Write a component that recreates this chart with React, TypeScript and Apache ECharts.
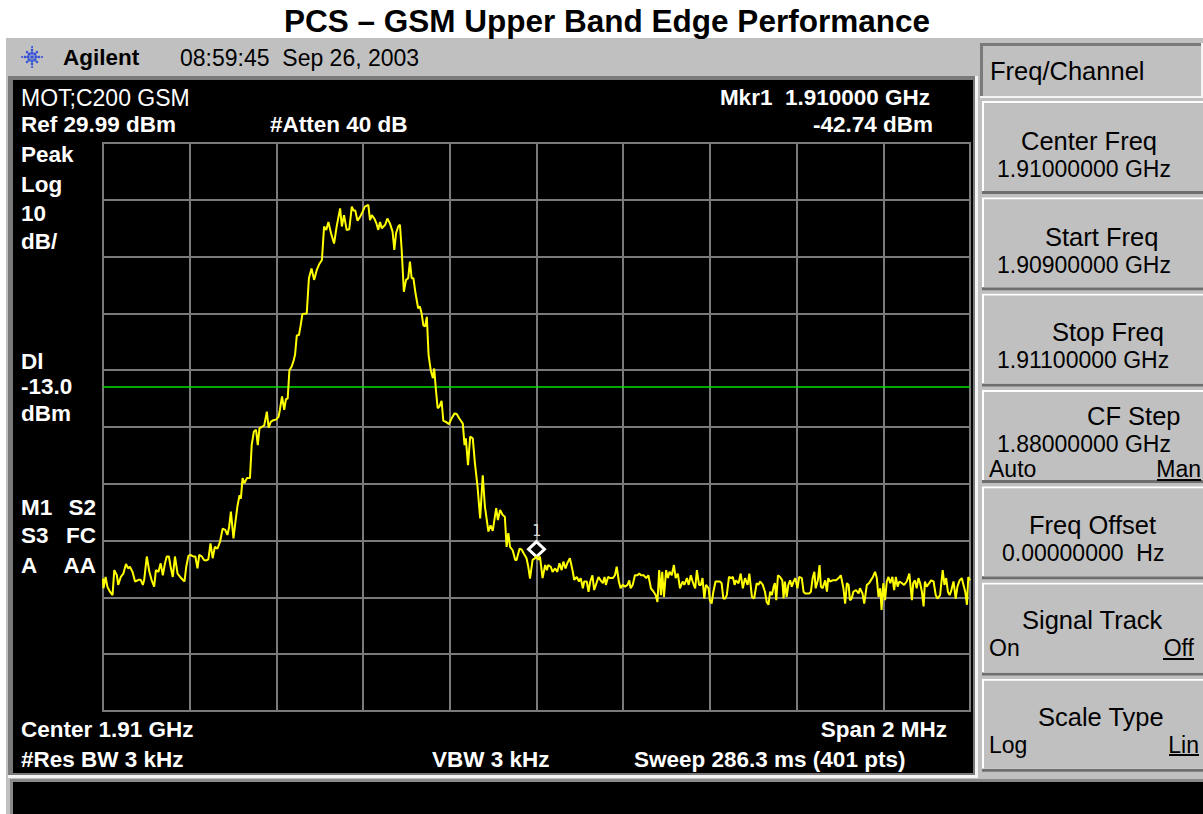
import React, { useEffect, useRef } from "react";
import * as echarts from "echarts";

const titleText = "PCS – GSM Upper Band Edge Performance";
const topLevelDbm = 30; // Ref 29.99 dBm
const bottomLevelDbm = -70;
const dbPerDiv = 10;
const spanKHz = 2000; // 1.909 GHz .. 1.911 GHz
const kHzPerDiv = 200;
const displayLineDbm = -13;
const markerFreqKHz = 1000;
const markerLevelDbm = -42.74;

// trace: frequency offset from start (1.909 GHz) in kHz, level in dBm
const traceFreqKHz = [
  0, 1, 6, 10, 16, 22, 26, 32, 35, 41,
  47, 53, 58, 62, 68, 74, 82, 87, 92, 95,
  101, 107, 112, 118, 122, 128, 133, 138, 143, 147,
  152, 156, 161, 166, 172, 178, 184, 188, 192, 197,
  202, 208, 213, 218, 222, 228, 233, 238, 243, 248,
  253, 258, 264, 270, 276, 282, 287, 291, 295, 301,
  305, 310, 315, 318, 322, 326, 332, 339, 343, 348,
  353, 357, 361, 366, 372, 378, 382, 387, 393, 399,
  405, 408, 413, 418, 422, 426, 430, 435, 439, 443,
  447, 452, 456, 460, 470, 475, 481, 487, 493, 499,
  505, 510, 515, 520, 526, 533, 539, 547, 551, 556,
  562, 568, 574, 578, 582, 587, 593, 599, 604, 612,
  616, 620, 626, 631, 635, 639, 643, 651, 656, 662,
  668, 672, 676, 681, 685, 689, 694, 699, 704, 708,
  712, 716, 721, 727, 731, 735, 739, 743, 747, 751,
  756, 761, 764, 768, 772, 776, 781, 785, 791, 798,
  804, 811, 816, 822, 830, 834, 837, 842, 847, 853,
  858, 864, 870, 876, 881, 889, 894, 899, 907, 911,
  916, 922, 927, 931, 935, 939, 945, 951, 954, 961,
  966, 971, 977, 981, 985, 991, 997, 1000, 1004, 1008,
  1014, 1020, 1024, 1027, 1033, 1037, 1043, 1048, 1053, 1058,
  1062, 1067, 1071, 1077, 1083, 1087, 1093, 1098, 1102, 1107,
  1110, 1116, 1120, 1124, 1129, 1133, 1137, 1143, 1148, 1153,
  1157, 1160, 1165, 1170, 1176, 1181, 1185, 1190, 1194, 1199,
  1204, 1210, 1214, 1217, 1222, 1227, 1233, 1237, 1241, 1247,
  1253, 1258, 1264, 1270, 1275, 1279, 1283, 1287, 1290, 1294,
  1299, 1303, 1307, 1312, 1317, 1321, 1326, 1331, 1337, 1341,
  1347, 1351, 1356, 1360, 1366, 1370, 1375, 1379, 1383, 1387,
  1391, 1397, 1400, 1404, 1408, 1413, 1417, 1423, 1427, 1431,
  1435, 1439, 1444, 1449, 1453, 1457, 1460, 1466, 1471, 1476,
  1481, 1487, 1491, 1497, 1502, 1508, 1512, 1516, 1522, 1527,
  1531, 1535, 1539, 1543, 1547, 1550, 1553, 1557, 1562, 1567,
  1570, 1573, 1577, 1581, 1585, 1589, 1593, 1597, 1602, 1606,
  1612, 1616, 1620, 1623, 1629, 1633, 1637, 1641, 1644, 1649,
  1653, 1656, 1660, 1666, 1670, 1673, 1677, 1683, 1691, 1697,
  1702, 1708, 1712, 1716, 1720, 1723, 1727, 1731, 1737, 1743,
  1746, 1752, 1756, 1762, 1767, 1771, 1776, 1781, 1785, 1789,
  1793, 1796, 1800, 1804, 1808, 1812, 1816, 1821, 1825, 1829,
  1833, 1837, 1843, 1848, 1854, 1860, 1866, 1869, 1873, 1877,
  1881, 1885, 1889, 1893, 1896, 1900, 1906, 1910, 1916, 1921,
  1925, 1931, 1937, 1941, 1945, 1949, 1953, 1956, 1962, 1967,
  1971, 1976, 1981, 1985, 1989, 1993, 1996, 2000,
];

const traceLevelDbm = [
  -46.7, -48.4, -46.4, -48.1, -49.0, -49.6, -45.2, -46.1, -47.8, -46.4,
  -45.8, -44.1, -44.9, -44.6, -45.5, -47.2, -46.9, -46.9, -47.8, -46.9,
  -42.8, -45.5, -46.9, -48.1, -45.2, -45.5, -44.0, -46.1, -44.0, -42.8,
  -42.8, -44.6, -46.4, -42.8, -45.8, -46.4, -46.9, -47.2, -44.6, -42.7,
  -42.5, -42.8, -42.8, -44.9, -42.5, -42.8, -43.4, -43.5, -43.3, -40.5,
  -43.1, -41.1, -41.4, -40.2, -37.9, -38.1, -39.0, -37.6, -34.9, -39.6,
  -37.0, -34.0, -32.0, -32.6, -29.0, -29.9, -29.0, -29.0, -23.2, -20.8,
  -20.5, -23.2, -20.2, -20.0, -19.7, -17.3, -20.1, -19.1, -18.8, -18.7,
  -18.2, -17.0, -14.6, -17.0, -15.1, -15.0, -10.0, -9.4, -8.5, -7.3,
  -3.9, -3.8, -2.1, -0.1, 0.0, 6.2, 7.9, 5.9, 7.6, 8.7,
  9.4, 15.3, 14.7, 16.1, 14.1, 12.3, 15.3, 18.5, 15.3, 17.3,
  14.7, 14.8, 18.8, 18.1, 18.1, 16.3, 17.0, 17.9, 18.8, 19.1,
  16.4, 17.3, 16.7, 15.8, 14.7, 16.1, 15.0, 15.6, 16.7, 15.8,
  14.4, 11.2, 14.1, 15.3, 15.6, 11.2, 3.8, 5.9, 6.2, 9.1,
  6.2, 6.2, 3.5, 0.9, 1.2, 0.0, -2.1, -2.3, -0.6, -7.3,
  -10.0, -11.4, -9.7, -13.5, -16.7, -16.4, -15.4, -18.9, -19.1, -19.5,
  -18.5, -17.6, -17.7, -18.5, -19.4, -23.2, -22.0, -26.7, -21.7, -22.0,
  -26.4, -30.5, -36.1, -28.5, -34.0, -38.4, -37.3, -38.3, -34.3, -36.4,
  -34.6, -35.5, -35.8, -41.1, -38.7, -41.1, -41.7, -43.4, -43.4, -41.4,
  -41.6, -42.3, -43.1, -44.6, -46.7, -43.4, -43.1, -42.74, -43.4, -42.8,
  -46.6, -44.3, -45.2, -44.3, -44.6, -45.5, -44.9, -45.5, -44.0, -45.2,
  -43.7, -44.9, -44.0, -43.1, -45.2, -46.9, -46.4, -47.2, -46.6, -48.4,
  -47.2, -47.2, -49.0, -47.2, -46.1, -48.7, -47.8, -46.4, -47.0, -47.5,
  -46.4, -47.8, -46.4, -46.6, -46.6, -46.1, -44.6, -47.2, -48.4, -47.8,
  -48.1, -47.8, -47.0, -48.4, -47.8, -46.1, -46.1, -45.8, -46.1, -46.1,
  -46.6, -46.1, -48.4, -49.0, -49.6, -50.8, -45.2, -49.6, -45.5, -49.9,
  -45.2, -46.6, -45.5, -46.1, -44.3, -46.6, -45.8, -48.4, -47.2, -47.8,
  -46.6, -47.8, -46.1, -47.2, -48.4, -45.2, -47.8, -47.8, -46.6, -50.2,
  -47.8, -48.4, -50.5, -51.1, -49.0, -47.2, -47.2, -47.2, -47.5, -50.2,
  -50.2, -49.6, -46.4, -46.6, -46.4, -47.8, -47.0, -47.5, -45.8, -48.4,
  -46.6, -47.8, -45.8, -49.9, -50.2, -47.5, -47.8, -47.2, -47.8, -49.0,
  -50.8, -51.3, -49.0, -49.6, -48.1, -47.5, -50.5, -46.1, -46.4, -47.0,
  -50.2, -47.2, -49.9, -47.8, -47.0, -48.1, -47.2, -46.6, -48.4, -46.4,
  -46.6, -49.0, -49.3, -49.3, -49.3, -49.0, -46.6, -45.5, -48.4, -47.0,
  -44.3, -48.1, -48.4, -47.0, -49.0, -46.6, -47.2, -47.0, -47.0, -46.6,
  -46.1, -48.4, -51.1, -47.5, -47.8, -50.5, -50.2, -49.0, -48.7, -49.3,
  -48.4, -49.3, -51.1, -47.8, -47.5, -47.0, -46.4, -45.5, -46.6, -49.9,
  -48.4, -52.2, -47.5, -50.5, -47.2, -46.4, -47.5, -46.4, -48.7, -46.4,
  -48.1, -47.2, -47.5, -47.8, -47.2, -45.8, -50.5, -47.5, -47.0, -48.4,
  -46.6, -47.5, -49.0, -51.6, -47.2, -48.1, -47.5, -47.0, -47.2, -49.6,
  -50.2, -49.6, -45.2, -47.8, -46.6, -49.0, -49.6, -49.0, -47.2, -50.2,
  -48.1, -47.0, -46.6, -47.8, -49.0, -51.3, -46.4, -47.0,
];

const headerLeft = ["MOT;C200 GSM", "Ref 29.99 dBm", "#Atten 40 dB"];
const headerRight = ["Mkr1  1.910000 GHz", "-42.74 dBm"];
const sideLabels = ["Peak", "Log", "10", "dB/", "Dl", "-13.0", "dBm"];
const statusRows = [["M1", "S2"], ["S3", "FC"], ["A", "AA"]];
const footerTexts = ["Center 1.91 GHz", "Span 2 MHz", "#Res BW 3 kHz", "VBW 3 kHz", "Sweep 286.3 ms (401 pts)"];
const timeStamp = "08:59:45  Sep 26, 2003";
const menuTitle = "Freq/Channel";
const softkeyLabels = ["Center Freq", "Start Freq", "Stop Freq", "CF Step", "Freq Offset", "Signal Track", "Scale Type"];
const softkeyValues = ["1.91000000 GHz", "1.90900000 GHz", "1.91100000 GHz", "1.88000000 GHz", "0.00000000  Hz", "", ""];
const softkeyToggles: [string, string][] = [["", ""], ["", ""], ["", ""], ["Auto", "Man"], ["", ""], ["On", "Off"], ["Log", "Lin"]];

const FONT = '"Liberation Sans", Arial, Helvetica, sans-serif';
const GRAY = "#c0c0c0";

function txt(text: string, x: number, y: number, size: number, o: any = {}) {
  return {
    type: "text",
    x,
    y,
    z: 50,
    silent: true,
    style: {
      text,
      fill: o.color || "#ffffff",
      fontSize: size,
      fontFamily: FONT,
      fontWeight: o.bold ? "bold" : "normal",
      textAlign: o.align || "left",
      textVerticalAlign: "middle",
    },
  };
}
function rect(x: number, y: number, w: number, h: number, fill: string, z = -10) {
  return { type: "rect", z, silent: true, shape: { x, y, width: w, height: h }, style: { fill } };
}
function hline(x1: number, x2: number, y: number, stroke: string, w = 2) {
  return { type: "line", z: 50, silent: true, shape: { x1, y1: y, x2, y2: y }, style: { stroke, lineWidth: w } };
}

function buildGraphics() {
  const els: any[] = [];
  // title
  els.push(txt(titleText, 607, 21, 31.5, { bold: true, color: "#000", align: "center" }));
  // instrument body
  els.push(rect(6, 38, 1197, 776, GRAY, -20));
  // display inset frame
  els.push(rect(8, 76, 970, 702, "#f4f4f4", -15));
  els.push(rect(8, 76, 967, 699, "#7a7a7a", -14));
  els.push(rect(13, 80, 960, 693, "#000000", -13));
  // bottom message bar
  els.push(rect(10, 779, 1193, 35, "#8a8a8a", -15));
  els.push(rect(13, 782, 1190, 32, "#000000", -13));
  // logo
  const logo: any[] = [];
  for (let k = 0; k < 8; k++) {
    const a = (k * Math.PI) / 4;
    const radii = k % 2 === 0 ? [4, 7, 10] : [4, 7];
    radii.forEach((r, i) => {
      logo.push({ type: "circle", shape: { cx: Math.cos(a) * r, cy: Math.sin(a) * r, r: 1.6 - i * 0.3 }, style: { fill: "#3552d8" } });
    });
  }
  logo.push({ type: "circle", shape: { cx: 0, cy: 0, r: 1.8 }, style: { fill: "#3552d8" } });
  els.push({ type: "group", x: 32, y: 57, z: 50, silent: true, children: logo });
  els.push(txt("Agilent", 63, 57.5, 22.5, { bold: true, color: "#000" }));
  els.push(txt(timeStamp, 180, 58, 23, { color: "#000" }));
  // display annotations
  els.push(txt(headerLeft[0], 21, 97.5, 23));
  els.push(txt(headerLeft[1], 21, 124, 22.5, { bold: true }));
  els.push(txt(headerLeft[2], 270, 124, 22.5, { bold: true }));
  els.push(txt(headerRight[0], 930, 97.5, 22.5, { bold: true, align: "right" }));
  els.push(txt(headerRight[1], 933, 124, 22.5, { bold: true, align: "right" }));
  const sideY = [154, 184, 213, 241, 361, 386, 413];
  sideLabels.forEach((s, i) => els.push(txt(s, 21, sideY[i], 22.5, { bold: true })));
  const statY = [507, 535, 565];
  statusRows.forEach((r, i) => {
    els.push(txt(r[0], 21, statY[i], 22.5, { bold: true }));
    els.push(txt(r[1], 96, statY[i], 22.5, { bold: true, align: "right" }));
  });
  els.push(txt(footerTexts[0], 21, 729, 22.5, { bold: true }));
  els.push(txt(footerTexts[1], 947, 729, 22.5, { bold: true, align: "right" }));
  els.push(txt(footerTexts[2], 21, 759, 22.5, { bold: true }));
  els.push(txt(footerTexts[3], 432, 759, 22.5, { bold: true }));
  els.push(txt(footerTexts[4], 634, 759, 22.5, { bold: true }));
  // softkey menu title (inset)
  els.push(rect(980, 43, 223, 55, "#f4f4f4", -12));
  els.push(rect(980, 43, 221, 53, "#7a7a7a", -11));
  els.push(rect(983, 46, 218, 50, GRAY, -10));
  els.push(txt(menuTitle, 990, 71, 25.5, { color: "#000" }));
  // softkeys
  const labelX = [1021, 1045, 1052, 1087, 1029, 1022, 1038];
  const labelY = [141, 237, 332, 416, 525, 620, 717];
  const valueX = [997, 997, 997, 997, 1002, 0, 0];
  const underline: Record<number, [number, number, number]> = { 3: [1157, 1201, 480], 5: [1163, 1194, 659], 6: [1169, 1199, 755] };
  const rightX = [0, 0, 0, 1201, 0, 1194, 1199];
  for (let i = 0; i < 7; i++) {
    const top = 101 + i * 96.3;
    els.push(rect(982, top, 221, 93, "#6e6e6e", -12));
    els.push(rect(982, top, 221, 90, "#ffffff", -11));
    els.push(rect(984, top + 2, 219, 88, GRAY, -10));
    els.push(txt(softkeyLabels[i], labelX[i], labelY[i], 25.5, { color: "#000" }));
    if (softkeyValues[i]) els.push(txt(softkeyValues[i], valueX[i], labelY[i] + 27.5, 23, { color: "#000" }));
    const tg = softkeyToggles[i];
    if (tg[0]) {
      const ty = i === 3 ? 469 : labelY[i] + 28;
      els.push(txt(tg[0], 989, ty, 23, { color: "#000" }));
      els.push(txt(tg[1], rightX[i], ty, 23, { color: "#000", align: "right" }));
      const u = underline[i];
      els.push(hline(u[0], u[1], u[2], "#000", 2));
    }
  }
  return els;
}

export default function App() {
  const ref = useRef<HTMLDivElement>(null);
  useEffect(() => {
    if (!ref.current) return;
    const chart = echarts.init(ref.current, undefined, { renderer: "svg" });
    const data = traceFreqKHz.map((f, i) => [f, traceLevelDbm[i]]);
    const axisCommon = {
      axisLine: { show: false },
      axisTick: { show: false },
      axisLabel: { show: false },
      splitLine: { show: true, lineStyle: { color: "#7a7a7a", width: 2 } },
    };
    chart.setOption({
      animation: false,
      backgroundColor: "#ffffff",
      grid: {
        left: 103,
        top: 143,
        width: 867,
        height: 568,
        show: true,
        borderColor: "#858585",
        borderWidth: 2,
        backgroundColor: "transparent",
      },
      xAxis: { type: "value", min: 0, max: spanKHz, interval: kHzPerDiv, ...axisCommon },
      yAxis: { type: "value", min: bottomLevelDbm, max: topLevelDbm, interval: dbPerDiv, ...axisCommon },
      series: [
        {
          type: "line",
          data,
          symbol: "none",
          showSymbol: false,
          z: 5,
          lineStyle: { color: "#ffff00", width: 2 },
          markLine: {
            silent: true,
            symbol: "none",
            label: { show: false },
            lineStyle: { color: "#00e000", width: 1.5, type: "solid" },
            data: [{ yAxis: displayLineDbm }],
          },
          markPoint: {
            silent: true,
            symbol: "diamond",
            symbolSize: [16, 15],
            symbolOffset: [0, -7],
            itemStyle: { color: "#000000", borderColor: "#ffffff", borderWidth: 3 },
            label: {
              show: true,
              position: "top",
              distance: 2,
              formatter: "1",
              color: "#d8d8d8",
              fontSize: 15,
              fontFamily: "DejaVu Sans Mono",
            },
            data: [{ coord: [markerFreqKHz, markerLevelDbm] }],
          },
        },
      ],
      graphic: { elements: buildGraphics() },
    });
    return () => chart.dispose();
  }, []);
  return <div ref={ref} style={{ position: "fixed", left: 0, top: 0, width: 1203, height: 814 }} />;
}
